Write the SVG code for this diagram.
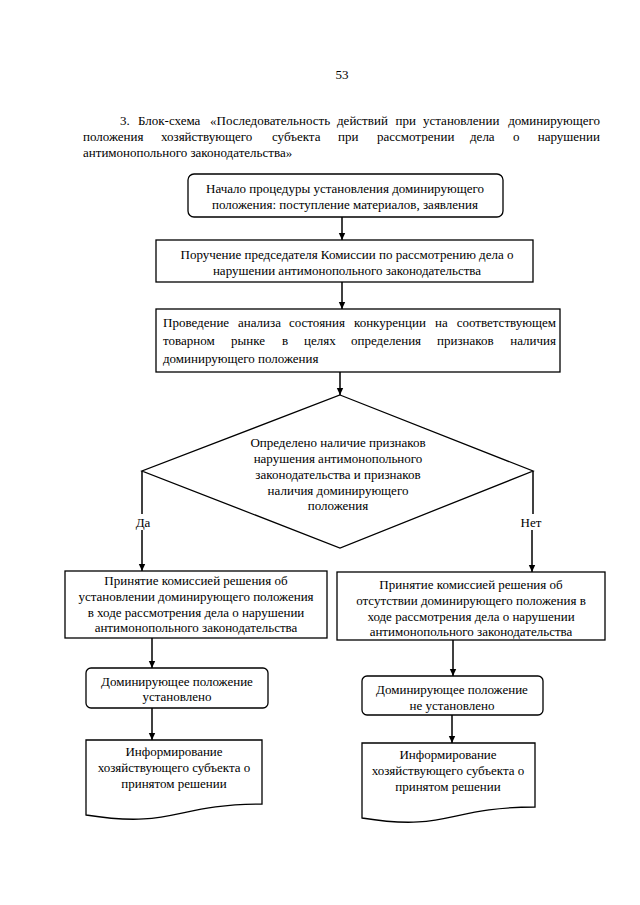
<svg xmlns="http://www.w3.org/2000/svg" width="640" height="905" viewBox="0 0 640 905">
<style>
text{font-family:"Liberation Serif","DejaVu Serif",serif;font-size:13px;fill:#000}
.c{text-anchor:middle}
.e{text-anchor:end}
.b{fill:#fff;stroke:#000;stroke-width:1.3}
.l{fill:none;stroke:#000;stroke-width:1.5}
</style>
<defs>
<marker id="ah" markerWidth="8" markerHeight="8" refX="7" refY="4" orient="auto" markerUnits="userSpaceOnUse">
<path d="M0,0.8 L7,4 L0,7.2 Z" fill="#000"/>
</marker>
</defs>
<rect width="640" height="905" fill="#fff"/>
<g id="header">
<text class="c" x="342" y="79">53</text>
<text y="125"><tspan x="120">3.</tspan> <tspan x="138">Блок-схема</tspan> <tspan x="210">«Последовательность</tspan> <tspan x="337">действий</tspan> <tspan x="395.5">при</tspan> <tspan x="423">установлении</tspan> <tspan class="e" x="600">доминирующего</tspan></text>
<text y="141"><tspan x="83">положения</tspan> <tspan x="161">хозяйствующего</tspan> <tspan x="272">субъекта</tspan> <tspan x="338">при</tspan> <tspan x="377">рассмотрении</tspan> <tspan x="470">дела</tspan> <tspan x="513">о</tspan> <tspan class="e" x="600">нарушении</tspan></text>
<text x="83" y="157">антимонопольного законодательства»</text>
</g>
<g id="connectors">
<line class="l" x1="342" y1="217" x2="342" y2="240" marker-end="url(#ah)"/>
<line class="l" x1="342" y1="282" x2="342" y2="309" marker-end="url(#ah)"/>
<line class="l" x1="340" y1="372" x2="340" y2="395" marker-end="url(#ah)"/>
<line class="l" x1="142" y1="471" x2="142" y2="514"/>
<line class="l" x1="142" y1="530" x2="142" y2="571" marker-end="url(#ah)"/>
<line class="l" x1="533" y1="471" x2="533" y2="514"/>
<line class="l" x1="532" y1="530" x2="532" y2="572" marker-end="url(#ah)"/>
<line class="l" x1="152" y1="638" x2="152" y2="668" marker-end="url(#ah)"/>
<line class="l" x1="152" y1="708" x2="152" y2="740" marker-end="url(#ah)"/>
<line class="l" x1="453" y1="640" x2="453" y2="676" marker-end="url(#ah)"/>
<line class="l" x1="452" y1="715" x2="452" y2="743" marker-end="url(#ah)"/>
<text class="c" x="143" y="527">Да</text>
<text class="c" x="531" y="527">Нет</text>
</g>
<g id="start">
<rect class="b" x="188" y="174" width="315" height="43" rx="6"/>
<text class="c" x="345" y="193">Начало процедуры установления доминирующего</text>
<text class="c" x="345" y="209">положения: поступление материалов, заявления</text>
</g>
<g id="order">
<rect class="b" x="156" y="240" width="377" height="42"/>
<text class="c" x="347" y="259">Поручение председателя Комиссии по рассмотрению дела о</text>
<text class="c" x="347" y="275">нарушении антимонопольного законодательства</text>
</g>
<g id="analysis">
<rect class="b" x="156" y="309" width="404" height="63"/>
<text y="327"><tspan x="163">Проведение</tspan> <tspan x="238">анализа</tspan> <tspan x="289">состояния</tspan> <tspan x="354">конкуренции</tspan> <tspan x="435">на</tspan> <tspan class="e" x="556">соответствующем</tspan></text>
<text y="345"><tspan x="163">товарном</tspan> <tspan x="231">рынке</tspan> <tspan x="282">в</tspan> <tspan x="304">целях</tspan> <tspan x="351">определения</tspan> <tspan x="437">признаков</tspan> <tspan class="e" x="556">наличия</tspan></text>
<text x="163" y="363">доминирующего положения</text>
</g>
<g id="decision">
<polygon class="b" points="340,395 533,471 340,548 142,471"/>
<text class="c" x="338" y="447">Определено наличие признаков</text>
<text class="c" x="338" y="463">нарушения антимонопольного</text>
<text class="c" x="338" y="479">законодательства и признаков</text>
<text class="c" x="338" y="495">наличия доминирующего</text>
<text class="c" x="338" y="510">положения</text>
</g>
<g id="yes-decision">
<rect class="b" x="65" y="571" width="262" height="67"/>
<text class="c" x="196" y="585">Принятие комиссией решения об</text>
<text class="c" x="196" y="601">установлении доминирующего положения</text>
<text class="c" x="196" y="617">в ходе рассмотрения дела о нарушении</text>
<text class="c" x="196" y="632">антимонопольного законодательства</text>
</g>
<g id="no-decision">
<rect class="b" x="337" y="572" width="268" height="68"/>
<text class="c" x="471" y="589">Принятие комиссией решения об</text>
<text class="c" x="471" y="605">отсутствии доминирующего положения в</text>
<text class="c" x="471" y="621">ходе рассмотрения дела о нарушении</text>
<text class="c" x="471" y="636">антимонопольного законодательства</text>
</g>
<g id="yes-result">
<rect class="b" x="86" y="668" width="182" height="40" rx="5"/>
<text class="c" x="177" y="686">Доминирующее положение</text>
<text class="c" x="177" y="701">установлено</text>
</g>
<g id="no-result">
<rect class="b" x="362" y="676" width="181" height="39" rx="5"/>
<text class="c" x="452" y="694">Доминирующее положение</text>
<text class="c" x="452" y="710">не установлено</text>
</g>
<g id="yes-inform">
<path class="b" d="M86,740 H262 V804 C174,804 174,829 86,815 Z"/>
<text class="c" x="174" y="756">Информирование</text>
<text class="c" x="174" y="772">хозяйствующего субъекта о</text>
<text class="c" x="174" y="788">принятом решении</text>
</g>
<g id="no-inform">
<path class="b" d="M362,743 H535 V807 C448,807 448,832 362,818 Z"/>
<text class="c" x="448" y="759">Информирование</text>
<text class="c" x="448" y="775">хозяйствующего субъекта о</text>
<text class="c" x="448" y="791">принятом решении</text>
</g>
</svg>
